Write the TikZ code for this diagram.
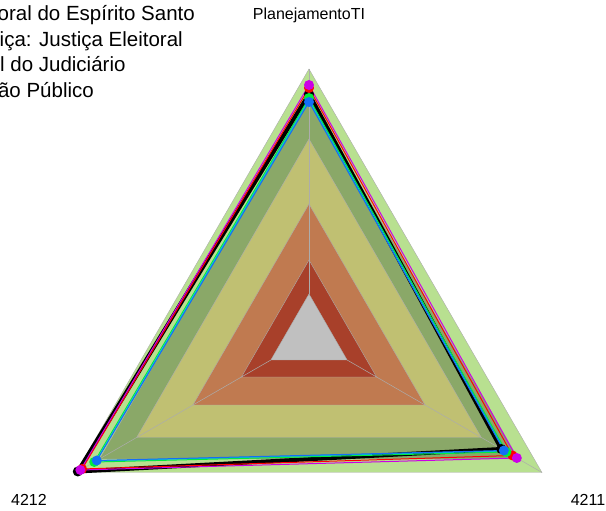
\documentclass[tikz,border=0pt]{standalone}
\usepackage{fontspec}
\setmainfont{Liberation Sans}
\definecolor{bandA}{RGB}{184,224,144}
\definecolor{bandB}{RGB}{138,168,104}
\definecolor{bandC}{RGB}{192,192,114}
\definecolor{bandD}{RGB}{192,122,80}
\definecolor{bandE}{RGB}{168,64,42}
\definecolor{bandF}{RGB}{192,192,192}
\definecolor{serMag}{RGB}{204,0,230}
\definecolor{serBlue}{RGB}{20,110,245}
\definecolor{serCyan}{RGB}{0,200,210}
\definecolor{serGreen}{RGB}{0,235,60}
\tikzset{
    band/.style = {draw = gray!65, line width = 0.4pt},
    spoke/.style = {draw = gray!65, line width = 0.5pt},
    series/.style = {line width = 1pt, line join = miter},
    dot/.style = {circle, fill, inner sep = 0pt, minimum size = 10pt},
    axislabel/.style = {font = \fontsize{16}{19}\selectfont},
    legendline/.style = {anchor = base east, inner sep = 0pt, font = \fontsize{20.5}{24}\selectfont}
}

\begin{document}
\begin{tikzpicture}[x = 1pt, y = 1pt]
    \useasboundingbox (-309, -173) rectangle (297, 338);

    % background bands
    \foreach \r/\c in {269/bandA, 242/bandB, 199/bandC, 134/bandD, 78/bandE}
        \filldraw[band, fill = \c] (90:\r) -- (-30:\r) -- (210:\r) -- cycle;

    % axes
    \coordinate (top) at (90:269);
    \coordinate (right) at (-30:269);
    \coordinate (left) at (210:269);
    \coordinate (itop) at (90:44);
    \coordinate (iright) at (-30:44);
    \coordinate (ileft) at (210:44);
    \draw[spoke] (itop) -- (top);
    \draw[spoke] (iright) -- (right);
    \draw[spoke] (ileft) -- (left);
    \filldraw[band, fill = bandF] (itop) -- (iright) -- (ileft) -- cycle;

    % series
    \foreach \a/\b/\cc/\col/\w in {244/222/267/black/4pt, 250/235/262/red/1pt,
                                   240/228/248/serGreen/1pt, 238/226/246/serCyan/1pt,
                                   236/225/245/serBlue/1pt, 253/240/264/serMag/1pt}
    {
        \draw[series, \col, line width = \w] (90:\a) -- (-30:\b) -- (210:\cc) -- cycle;
    }
    \foreach \a/\b/\cc/\col in {244/222/267/black, 250/235/262/red, 240/228/248/serGreen,
                                236/225/245/serBlue, 253/240/264/serMag}
    {
        \node[dot, \col] at (90:\a) {};
        \node[dot, \col] at (-30:\b) {};
        \node[dot, \col] at (210:\cc) {};
    }

    % labels
    \node[axislabel] (lbltop) at (0, 323) {PlanejamentoTI};
    \node[axislabel] (lblleft) at (-280, -162) {4212};
    \node[axislabel] (lblright) at (279, -162) {4211};

    \node[legendline] (leg1) at (-114, 317.3) {oral do Espírito Santo};
    \node[legendline] (leg2) at (-126, 291.5) {iça: Justiça Eleitoral};
    \node[legendline] (leg3) at (-183.3, 266) {l do Judiciário};
    \node[legendline] (leg4) at (-215, 240.7) {ão Público};
\end{tikzpicture}
\end{document}
